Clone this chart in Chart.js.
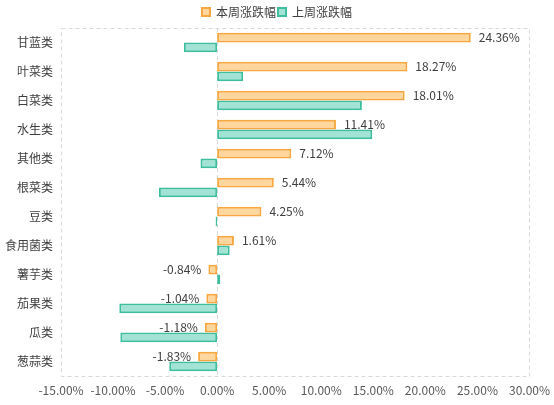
<!DOCTYPE html>
<html>
<head>
<meta charset="utf-8">
<script src="https://cdn.jsdelivr.net/npm/chart.js@4/dist/chart.umd.min.js"></script>
<style>
html,body{margin:0;padding:0;background:#fff;}
#wrap{width:554px;height:405px;position:relative;}
</style>
</head>
<body>
<div id="wrap"><canvas id="c"></canvas></div>
<script>
const categories = ['甘蓝类','叶菜类','白菜类','水生类','其他类','根菜类','豆类','食用菌类','薯芋类','茄果类','瓜类','葱蒜类'];
const thisWeek = [24.36, 18.27, 18.01, 11.41, 7.12, 5.44, 4.25, 1.61, -0.84, -1.04, -1.18, -1.83];
const lastWeek = [-3.2, 2.5, 13.9, 14.9, -1.6, -5.6, -0.15, 1.2, 0.3, -9.4, -9.3, -4.6];
const seriesNames = ['本周涨跌幅','上周涨跌幅'];
const xTicksMin = -15, xTicksMax = 30, xStep = 5;

const FONT = '"Noto Sans CJK SC", "Microsoft YaHei", sans-serif';

const framePlugin = {
  id: 'frame',
  beforeDatasetsDraw(chart) {
    const {ctx, chartArea: a, scales: {x}} = chart;
    ctx.save();
    ctx.strokeStyle = '#d9d9d9';
    ctx.lineWidth = 1;
    ctx.setLineDash([4, 3]);
    ctx.beginPath();
    ctx.rect(Math.round(a.left) + 0.5, Math.round(a.top) + 0.5, Math.round(a.right - a.left), Math.round(a.bottom - a.top));
    const zx = Math.round(x.getPixelForValue(0)) + 0.5;
    ctx.moveTo(zx, a.top);
    ctx.lineTo(zx, a.bottom);
    ctx.stroke();
    ctx.restore();
  }
};

const labelPlugin = {
  id: 'vlabels',
  afterDatasetsDraw(chart) {
    const {ctx} = chart;
    const meta = chart.getDatasetMeta(0);
    ctx.save();
    ctx.font = '12px ' + FONT;
    ctx.fillStyle = '#404040';
    ctx.textBaseline = 'middle';
    meta.data.forEach((bar, i) => {
      const v = thisWeek[i];
      const txt = v.toFixed(2) + '%';
      if (v >= 0) {
        ctx.textAlign = 'left';
        ctx.fillText(txt, bar.x + 8, bar.y);
      } else {
        ctx.textAlign = 'right';
        ctx.fillText(txt, bar.x - 7, bar.y);
      }
    });
    ctx.restore();
  }
};

new Chart(document.getElementById('c'), {
  type: 'bar',
  data: {
    labels: categories,
    datasets: [
      {
        label: seriesNames[0],
        data: thisWeek,
        backgroundColor: '#FFD69E',
        borderColor: '#F9A741',
        borderWidth: 2,
        borderSkipped: false,
        barPercentage: 1,
        categoryPercentage: 0.68
      },
      {
        label: seriesNames[1],
        data: lastWeek,
        backgroundColor: '#A2E3D5',
        borderColor: '#3DBE9E',
        borderWidth: 2,
        borderSkipped: false,
        barPercentage: 1,
        categoryPercentage: 0.68
      }
    ]
  },
  options: {
    indexAxis: 'y',
    responsive: true,
    maintainAspectRatio: false,
    animation: false,
    layout: { padding: { left: 0, right: 0, top: 4, bottom: 0 } },
    plugins: {
      legend: {
        display: true,
        position: 'top',
        labels: {
          boxWidth: 8,
          boxHeight: 8,
          padding: 2,
          color: '#404040',
          font: { family: FONT, size: 12 },
          generateLabels(chart) {
            return chart.data.datasets.map((ds, i) => ({
              text: ds.label,
              fillStyle: ds.backgroundColor,
              strokeStyle: ds.borderColor,
              lineWidth: 2,
              hidden: false,
              datasetIndex: i,
              fontColor: '#404040'
            }));
          }
        }
      },
      tooltip: { enabled: false }
    },
    scales: {
      x: {
        type: 'linear',
        min: xTicksMin,
        max: xTicksMax,
        grid: { display: false, drawTicks: false },
        border: { display: false },
        ticks: {
          stepSize: xStep,
          padding: 4,
          maxRotation: 0,
          minRotation: 0,
          autoSkip: false,
          color: '#595959',
          font: { family: FONT, size: 12, lineHeight: 1.75 },
          callback: v => v.toFixed(2) + '%'
        },
        afterFit(s) { s.height = 29; }
      },
      y: {
        grid: { display: false, drawTicks: false },
        border: { display: false },
        ticks: {
          padding: 8,
          color: '#404040',
          font: { family: FONT, size: 12 }
        },
        afterFit(s) { s.width = 61; }
      }
    }
  },
  plugins: [framePlugin, labelPlugin]
});
</script>
</body>
</html>
